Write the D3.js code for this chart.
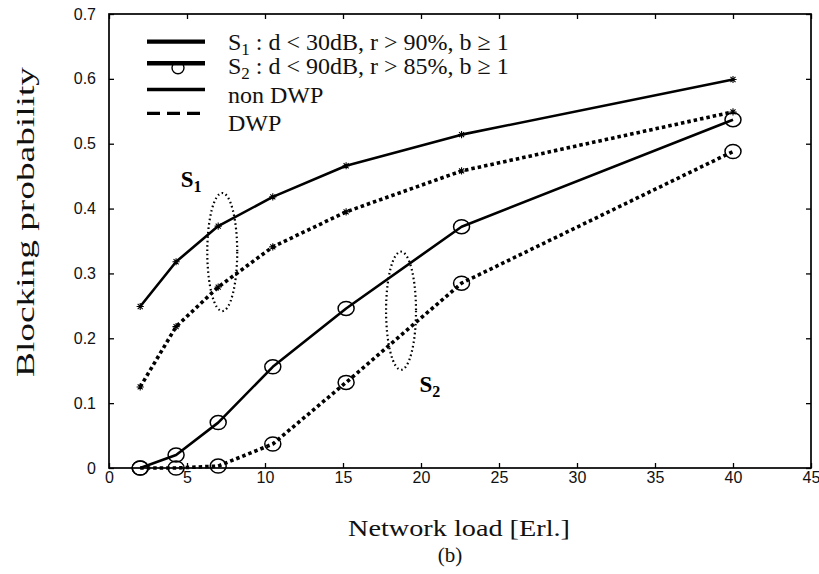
<!DOCTYPE html>
<html>
<head>
<meta charset="utf-8">
<script src="https://d3js.org/d3.v7.min.js"></script>
<style>
  body { margin: 0; background: #fff; }
  svg { display: block; }
</style>
</head>
<body>
<script>
// data
var loads = [2, 4.3, 7, 10.5, 15.2, 22.6, 40];
var s1NonDwp = [0.249, 0.318, 0.373, 0.418, 0.466, 0.514, 0.599];
var s1Dwp = [0.125, 0.218, 0.279, 0.341, 0.395, 0.458, 0.549];
var s2NonDwp = [0, 0.02, 0.07, 0.156, 0.246, 0.372, 0.537];
var s2Dwp = [0, 0, 0.003, 0.037, 0.132, 0.285, 0.488];
var xTicks = [0, 5, 10, 15, 20, 25, 30, 35, 40, 45];
var yTicks = [0, 0.1, 0.2, 0.3, 0.4, 0.5, 0.6, 0.7];

var seriesList = [
  { name: "s1n", values: s1NonDwp, marker: "star", dashed: false },
  { name: "s1d", values: s1Dwp, marker: "star", dashed: true },
  { name: "s2n", values: s2NonDwp, marker: "circle", dashed: false },
  { name: "s2d", values: s2Dwp, marker: "circle", dashed: true }
];

// dotted loops grouping the S1 / S2 curves (data units)
var loopNames = ["1", "2"];
var loopCenters = [[7.26, 0.333], [18.72, 0.2425]];
var loopRadii = [[0.96, 0.091], [0.96, 0.091]];
var loopLabelAt = [[4.6, 0.433], [19.9, 0.117]];

var width = 819, height = 574;
var margin = { left: 109, right: 8, top: 14, bottom: 106 };

var svg = d3.select("body").append("svg")
  .attr("width", width)
  .attr("height", height);

var x = d3.scaleLinear().domain([0, 45]).range([margin.left, width - margin.right]);
var y = d3.scaleLinear().domain([0, 0.7]).range([height - margin.bottom, margin.top]);

// axes, ticks pointing inward on all four sides
var fmtY = function (d) { return d === 0 ? "0" : d.toFixed(1); };
svg.append("g")
  .attr("transform", "translate(0," + y(0) + ")")
  .call(d3.axisBottom(x).tickValues(xTicks).tickSize(-5).tickPadding(4));
svg.append("g")
  .attr("transform", "translate(" + x(0) + ",0)")
  .call(d3.axisLeft(y).tickValues(yTicks).tickSize(-5).tickPadding(13).tickFormat(fmtY));
svg.append("g")
  .attr("transform", "translate(0," + y(0.7) + ")")
  .call(d3.axisTop(x).tickValues(xTicks).tickSize(-5).tickFormat(""));
svg.append("g")
  .attr("transform", "translate(" + x(45) + ",0)")
  .call(d3.axisRight(y).tickValues(yTicks).tickSize(-5).tickFormat(""));

svg.selectAll(".domain").remove();
svg.selectAll(".tick line").attr("stroke", "#000").attr("stroke-width", 1.3);
svg.selectAll(".tick text")
  .attr("fill", "#111")
  .attr("font-size", null)
  .style("font-family", "'Liberation Sans', Arial, sans-serif")
  .style("font-size", "16px");

svg.append("rect")
  .attr("x", x(0)).attr("y", y(0.7))
  .attr("width", x(45) - x(0)).attr("height", y(0) - y(0.7))
  .attr("fill", "none").attr("stroke", "#000").attr("stroke-width", 1.7);

// curves
var line = d3.line()
  .x(function (d) { return x(d[0]); })
  .y(function (d) { return y(d[1]); });

function starPath(s) {
  var d = 0.7 * s;
  return "M" + (-s) + ",0L" + s + ",0" +
    "M0," + (-s) + "L0," + s +
    "M" + (-d) + "," + (-d) + "L" + d + "," + d +
    "M" + (-d) + "," + d + "L" + d + "," + (-d);
}

var plot = svg.append("g");
seriesList.forEach(function (s) {
  var pts = loads.map(function (l, i) { return [l, s.values[i]]; });
  plot.append("path")
    .attr("d", line(pts))
    .attr("fill", "none")
    .attr("stroke", "#000")
    .attr("stroke-width", s.dashed ? 3.6 : 2.6)
    .attr("stroke-dasharray", s.dashed ? "3.5,3" : null)
    .attr("stroke-linejoin", "round");

  var mk = plot.selectAll(".m-" + s.name)
    .data(pts)
    .enter().append("g")
    .attr("class", "m-" + s.name)
    .attr("transform", function (d) { return "translate(" + x(d[0]) + "," + y(d[1]) + ")"; });
  if (s.marker == "circle") {
    mk.append("ellipse")
      .attr("rx", 8).attr("ry", 7)
      .attr("fill", "none").attr("stroke", "#000").attr("stroke-width", 1.5);
  } else {
    mk.append("path")
      .attr("d", starPath(3.6))
      .attr("stroke", "#000").attr("stroke-width", 1.1);
  }
});

// dotted loops + labels
loopNames.forEach(function (n, i) {
  var c = loopCenters[i], r = loopRadii[i], lp = loopLabelAt[i];
  plot.append("ellipse")
    .attr("cx", x(c[0])).attr("cy", y(c[1]))
    .attr("rx", x(r[0]) - x(0)).attr("ry", y(0) - y(r[1]))
    .attr("fill", "none").attr("stroke", "#000")
    .attr("stroke-width", 2.2).attr("stroke-dasharray", "1.6,2.8");
  var t = plot.append("text")
    .attr("x", x(lp[0])).attr("y", y(lp[1]))
    .style("font-family", "'Liberation Serif', 'Times New Roman', serif")
    .style("font-weight", "bold")
    .style("font-size", "23px");
  t.append("tspan").text("S");
  t.append("tspan").attr("dy", 5).style("font-size", "16px").text(n);
});

// legend
var legendRows = [
  { kind: "s1", lineY: 41.7, textY: 50, width: 4.2 },
  { kind: "s2", lineY: 63.3, textY: 73.5, width: 4.6 },
  { kind: "solid", lineY: 89.5, textY: 102.5, width: 3.4, label: "non DWP" },
  { kind: "dash", lineY: 113.3, textY: 130.5, width: 3.2, label: "DWP" }
];
var lg = svg.append("g");
var lx0 = 147, lx1 = 205, tx = 228;
legendRows.forEach(function (r) {
  lg.append("line")
    .attr("x1", lx0).attr("x2", lx1).attr("y1", r.lineY).attr("y2", r.lineY)
    .attr("stroke", "#000").attr("stroke-width", r.width)
    .attr("stroke-dasharray", r.kind == "dash" ? "13,7" : null);
  if (r.kind == "s2") {
    lg.append("circle").attr("cx", 178).attr("cy", r.lineY + 4.5).attr("r", 6)
      .attr("fill", "none").attr("stroke", "#000").attr("stroke-width", 1.4);
  }
  var t = lg.append("text")
    .attr("x", tx).attr("y", r.textY)
    .style("font-family", "'Liberation Serif', 'Times New Roman', serif")
    .style("font-size", "24px")
    .attr("fill", "#111");
  if (r.kind == "s1" || r.kind == "s2") {
    t.append("tspan").text("S");
    t.append("tspan").attr("dy", 5).style("font-size", "17px").text(r.kind == "s1" ? "1" : "2");
    t.append("tspan").attr("dy", -5).text(r.kind == "s1"
      ? " : d < 30dB, r > 90%, b \u2265 1"
      : " : d < 90dB, r > 85%, b \u2265 1");
  } else {
    t.text(r.label);
  }
});

// axis titles
svg.append("text")
  .attr("x", 459).attr("y", 536)
  .attr("text-anchor", "middle")
  .attr("textLength", 222).attr("lengthAdjust", "spacingAndGlyphs")
  .style("font-family", "'Liberation Serif', 'Times New Roman', serif")
  .style("font-size", "24px")
  .attr("fill", "#111")
  .text("Network load [Erl.]");
svg.append("text")
  .attr("x", 450).attr("y", 562)
  .attr("text-anchor", "middle")
  .style("font-family", "'Liberation Serif', 'Times New Roman', serif")
  .style("font-size", "21px")
  .attr("fill", "#111")
  .text("(b)");
svg.append("text")
  .attr("transform", "translate(34,222) rotate(-90)")
  .attr("text-anchor", "middle")
  .attr("textLength", 310).attr("lengthAdjust", "spacingAndGlyphs")
  .style("font-family", "'Liberation Serif', 'Times New Roman', serif")
  .style("font-size", "26px")
  .attr("fill", "#111")
  .text("Blocking probability");
</script>
</body>
</html>
